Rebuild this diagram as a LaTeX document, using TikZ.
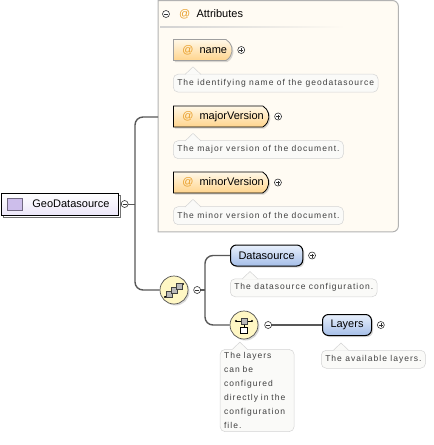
\documentclass[tikz,border=0pt]{standalone}
\usepackage{fontspec}
\setmainfont{Liberation Sans}
\newfontfamily\tipfont{Liberation Sans}[LetterSpace=12]
\usetikzlibrary{positioning, shapes.misc, shadows}
\definecolor{attrbg}{RGB}{255,251,243}
\definecolor{framegray}{RGB}{178,178,178}
\definecolor{atsign}{RGB}{232,158,40}
\definecolor{attrtop}{RGB}{255,248,232}
\definecolor{attrbot}{RGB}{255,212,140}
\definecolor{elemtop}{RGB}{232,240,252}
\definecolor{elembot}{RGB}{165,190,232}
\definecolor{geobg}{RGB}{250,248,255}
\definecolor{geoicon}{RGB}{205,190,235}
\definecolor{compfill}{RGB}{255,247,196}
\definecolor{tipline}{RGB}{212,212,212}
\definecolor{tipbg}{RGB}{250,250,248}
\definecolor{wire}{RGB}{88,88,88}
\newcommand{\tipnotch}[1]{%
  \filldraw[draw=tipline, fill=tipbg, line width=0.5pt]
    ([xshift=12pt,yshift=-0.6pt]#1.north west) --
    ([xshift=20pt,yshift=7pt]#1.north west) --
    ([xshift=28pt,yshift=-0.6pt]#1.north west);}
\newcommand{\attrname}[1]{\hspace{5pt}\textcolor{atsign}{@}\hspace{6pt}#1\hspace{3pt}}

\begin{document}
\begin{tikzpicture}[x=1pt, y=-1pt,
  every node/.style={inner sep=2pt},
  lbl/.style={font=\fontsize{11}{13}\selectfont},
  attr/.style={rounded rectangle, rounded rectangle left arc=none,
               rounded rectangle arc length=120, draw=black, line width=0.8pt,
               top color=attrtop, bottom color=attrbot, minimum height=21pt,
               inner xsep=4pt, anchor=west, lbl,
               drop shadow={shadow xshift=1.5pt, shadow yshift=-1.5pt, opacity=0.3}},
  optattr/.style={attr, draw=gray!75},
  elem/.style={rectangle, rounded corners=6pt, draw=black, line width=1pt,
               top color=elemtop, bottom color=elembot, minimum height=21pt,
               inner xsep=8pt, anchor=west, lbl,
               drop shadow={shadow xshift=1.5pt, shadow yshift=-1.5pt, opacity=0.3}},
  tip/.style={draw=tipline, fill=tipbg, line width=0.5pt, rounded corners=5pt,
              font=\tipfont\fontsize{8.5}{14}\selectfont, text=black!75,
              inner xsep=4pt, inner ysep=3pt, minimum height=18pt, anchor=north west},
  comp/.style={circle, draw=gray!65!black, fill=compfill, minimum size=28pt,
               inner sep=0pt, line width=0.7pt,
               drop shadow={shadow xshift=1.5pt, shadow yshift=-1.5pt, opacity=0.3}},
  pm/.style={circle, draw=black!80, fill=white, minimum size=7pt, inner sep=0pt,
             line width=0.6pt},
  plus/.style={pm, path picture={
      \draw[line width=0.6pt]
        ([xshift=-2pt]path picture bounding box.center) -- ([xshift=2pt]path picture bounding box.center)
        ([yshift=-2pt]path picture bounding box.center) -- ([yshift=2pt]path picture bounding box.center);}},
  minus/.style={pm, path picture={
      \draw[line width=0.6pt]
        ([xshift=-2pt]path picture bounding box.center) -- ([xshift=2pt]path picture bounding box.center);}},
  conn/.style={draw=wire, line width=1.4pt, rounded corners=8pt},
  atmark/.style={text=atsign}]
\useasboundingbox (0,0) rectangle (434,445);

% attribute frame
\node[minimum width=240pt, minimum height=231pt, inner sep=0pt, anchor=north west] (attrs) at (158,0.5) {};
\filldraw[draw=framegray, fill=attrbg, line width=1pt]
  (attrs.south west) -- (attrs.north west) -- ([xshift=-6pt]attrs.north east)
  arc[start angle=90, end angle=0, radius=6pt] -- ([yshift=6pt]attrs.south east)
  arc[start angle=0, end angle=-90, radius=6pt] -- cycle;
\shade[left color=gray!35, right color=attrbg] (160,26.5) rectangle (345,27.5);
\node[minus] (attrminus) at (166,14) {};
\node[lbl, atmark, right=9pt of attrminus, inner sep=0pt] (attrat) {@};
\node[lbl, right=6pt of attrat, inner sep=0pt] (attrhead) {Attributes};

\node[optattr] (name) at (173,50) {\attrname{name}};
\node[plus, right=5pt of name] (nameplus) {};
\node[tip, below right=13pt and 0pt of name.south west] (nametip) {The identifying name of the geodatasource};
\tipnotch{nametip}

\node[attr] (major) at (173,116.5) {\attrname{majorVersion}};
\node[plus, right=5pt of major] (majorplus) {};
\node[tip, below right=13pt and 0pt of major.south west] (majortip) {The major version of the document.};
\tipnotch{majortip}

\node[attr] (minor) at (173,182.5) {\attrname{minorVersion}};
\node[plus, right=5pt of minor] (minorplus) {};
\node[tip, below right=13pt and 0pt of minor.south west] (minortip) {The minor version of the document.};
\tipnotch{minortip}

% root element
\node[draw=black, line width=0.8pt, top color=white, bottom color=geobg!70!geoicon,
      minimum height=22pt, inner xsep=9pt, anchor=west, lbl,
      copy shadow={shadow xshift=2pt, shadow yshift=-2pt, draw=black!55, fill=white}]
  (geo) at (1,204) {\hspace{22pt}GeoDatasource};
\filldraw[fill=geoicon, draw=black!45!geoicon, line width=0.6pt]
  ([xshift=6pt,yshift=6pt]geo.west) rectangle ++(15,12);
\node[minus, right=2pt of geo] (geominus) {};

% sequence
\coordinate (attrin) at (158,117);
\coordinate (bus) at (135,0);
\node[comp] (seq) at (174,290) {};
\begin{scope}[shift={(seq.center)}]
  \draw[line width=0.7pt] (-9,7) -- (9,-6);
  \fill (-9,7) circle (1.2pt) (9,-6) circle (1.2pt);
  \filldraw[fill=gray!55, draw=black!75, line width=0.5pt] (-8,1) rectangle (-2,7);
  \filldraw[fill=gray!55, draw=black!75, line width=0.5pt] (-3,-3) rectangle (3,3);
  \filldraw[fill=gray!55, draw=black!75, line width=0.5pt] (2,-7) rectangle (8,-1);
\end{scope}
\node[minus, right=5pt of seq] (seqminus) {};
\draw[conn] (attrin) -- ++(-23,0) |- (seq.west);
\draw[conn, line width=0.9pt] (geominus.east) -- (geominus.east -| bus);

\node[elem] (ds) at (230,255.5) {Datasource};
\node[plus, right=5pt of ds] (dsplus) {};
\node[tip, below right=12pt and 0pt of ds.south west] (dstip) {The datasource configuration.};
\tipnotch{dstip}

\node[comp] (choice) at (244,325) {};
\begin{scope}[shift={(choice.center)}]
  \draw[line width=0.7pt] (-8,-4) -- (8,-4) (0,-4) -- (0,2);
  \fill (-8,-4) circle (1.2pt) (8,-4) circle (1.2pt);
  \filldraw[fill=gray!55, draw=black!75, line width=0.5pt] (-3,-7) rectangle (3,-1);
  \filldraw[fill=white, draw=black, line width=0.7pt] (-3.5,2) rectangle (3.5,8.5);
\end{scope}
\node[minus, right=6pt of choice] (choiceminus) {};
\node[tip, text width=66pt, align=left, below right=14pt and -14pt of choice.south west] (choicetip)
  {The layers\\can be\\configured\\directly in the\\configuration\\file.};
\tipnotch{choicetip}

\coordinate (brk) at (205,0);
\draw[conn] (ds.west) -- ++(-25,0) |- (choice.west);
\draw[conn] (seqminus.east) -- (seqminus.east -| brk);

\node[elem] (layers) at (322,325) {Layers};
\node[plus, right=5pt of layers] (layersplus) {};
\node[tip, below right=14pt and -1pt of layers.south west] (layerstip) {The available layers.};
\tipnotch{layerstip}
\draw[conn] (choiceminus) -- (layers);
\end{tikzpicture}
\end{document}
